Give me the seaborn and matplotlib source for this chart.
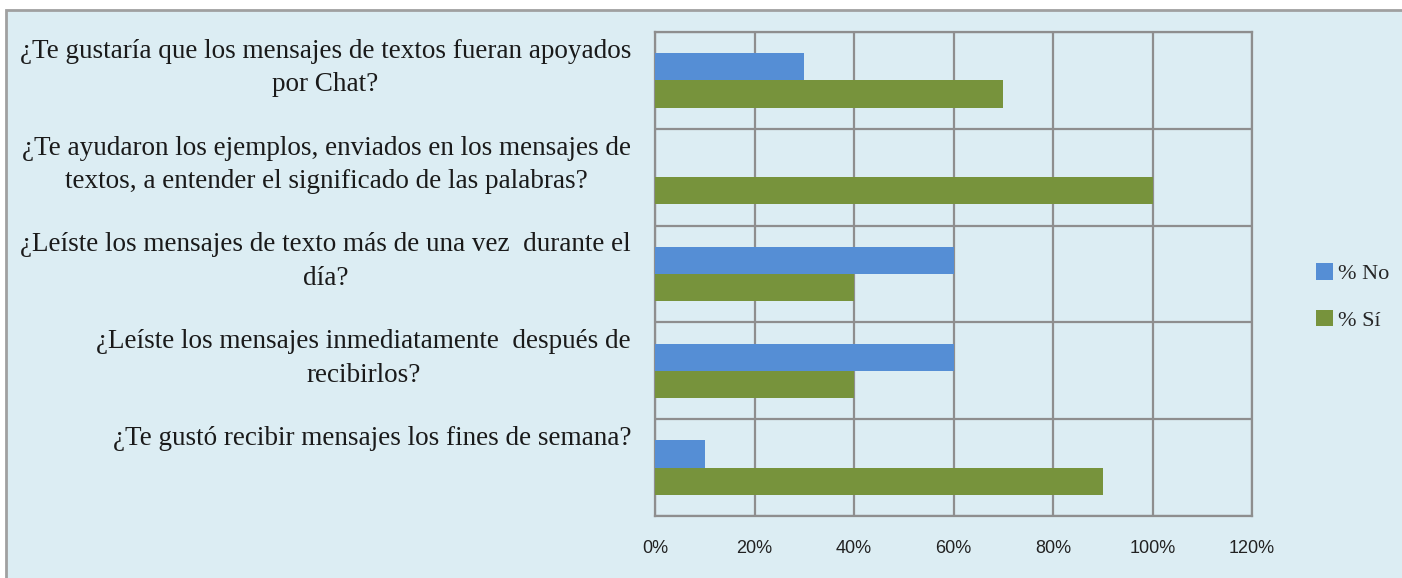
import matplotlib
matplotlib.use("Agg")
import matplotlib.pyplot as plt
import matplotlib.transforms as mtransforms
from matplotlib.patches import Rectangle
from matplotlib.ticker import PercentFormatter, FixedLocator
import pandas as pd
import seaborn as sns

# Data
preguntas = [
    "¿Te gustaría que los mensajes de textos fueran apoyados\npor Chat?",
    "¿Te ayudaron los ejemplos, enviados en los mensajes de\ntextos, a entender el significado de las palabras?",
    "¿Leíste los mensajes de texto más de una vez  durante el\ndía?",
    "¿Leíste los mensajes inmediatamente  después de\nrecibirlos?",
    "¿Te gustó recibir mensajes los fines de semana?",
]
series = ["% No", "% Sí"]
pct_no = [0.30, 0.00, 0.60, 0.60, 0.10]
pct_si = [0.70, 1.00, 0.40, 0.40, 0.90]
colores = ["#558ED5", "#77933C"]

df = pd.DataFrame({
    "pregunta": preguntas * 2,
    "serie": [series[0]] * len(preguntas) + [series[1]] * len(preguntas),
    "valor": pct_no + pct_si,
})

bg = "#DCEDF3"
grid_c = "#8E8E8E"

sns.set_style("white")
plt.rcParams["font.family"] = ["Liberation Serif", "DejaVu Serif"]

fig = plt.figure(figsize=(14.02, 5.78), dpi=100, facecolor="white")
# outer chart frame
fig.patches.append(Rectangle((6 / 1402, -0.02), 1.0, 1 - 10 / 578 + 0.02,
                             transform=fig.transFigure, facecolor=bg,
                             edgecolor="#A0A0A0", linewidth=2, zorder=-10))

ax = fig.add_axes([655 / 1402, 62 / 578, 597 / 1402, 484 / 578])
ax.set_facecolor(bg)

sns.barplot(data=df, y="pregunta", x="valor", hue="serie", orient="h",
            palette=colores, width=0.56, linewidth=0, saturation=1,
            ax=ax, zorder=3)

ax.set_xlim(0, 1.2)
ax.set_ylim(len(preguntas) - 0.5, -0.5)
ax.set_xticks([0, 0.2, 0.4, 0.6, 0.8, 1.0, 1.2])
ax.xaxis.set_major_formatter(PercentFormatter(xmax=1, decimals=0))
ax.set_xlabel("")
ax.set_ylabel("")

# gridlines
ax.grid(axis="x", color=grid_c, linewidth=1.6, zorder=0)
ax.yaxis.set_minor_locator(FixedLocator([i - 0.5 for i in range(len(preguntas) + 1)]))
ax.grid(axis="y", which="minor", color=grid_c, linewidth=1.6, zorder=0)
ax.set_yticks(range(len(preguntas)))
ax.set_yticklabels([""] * len(preguntas))
ax.tick_params(axis="y", which="major", length=0)
ax.tick_params(axis="y", which="minor", length=8, width=1.6, color=grid_c, direction="out")
ax.tick_params(axis="x", length=7, width=1.6, color=grid_c, direction="out",
               pad=10, labelsize=13, labelcolor="#222222")
for lab in ax.get_xticklabels():
    lab.set_fontfamily("Liberation Sans")
for s in ax.spines.values():
    s.set_color(grid_c)
    s.set_linewidth(1.6)

# question labels, top-aligned in each band
trans = mtransforms.blended_transform_factory(ax.transAxes, ax.transData)
for i, q in enumerate(preguntas):
    ax.text(-0.04, i - 0.43, q, transform=trans, ha="right", va="top",
            multialignment="center", fontsize=19.5, linespacing=1.45,
            color="#1A1A1A")

leg = ax.legend(loc="center left", bbox_to_anchor=(1316 / 1402, (578 - 297) / 578),
                bbox_transform=fig.transFigure, frameon=False, fontsize=16,
                handlelength=0.75, handleheight=0.75, handletextpad=0.25,
                labelspacing=1.15, borderpad=0, borderaxespad=0)

fig.savefig("out.png", dpi=100, facecolor=fig.get_facecolor())
